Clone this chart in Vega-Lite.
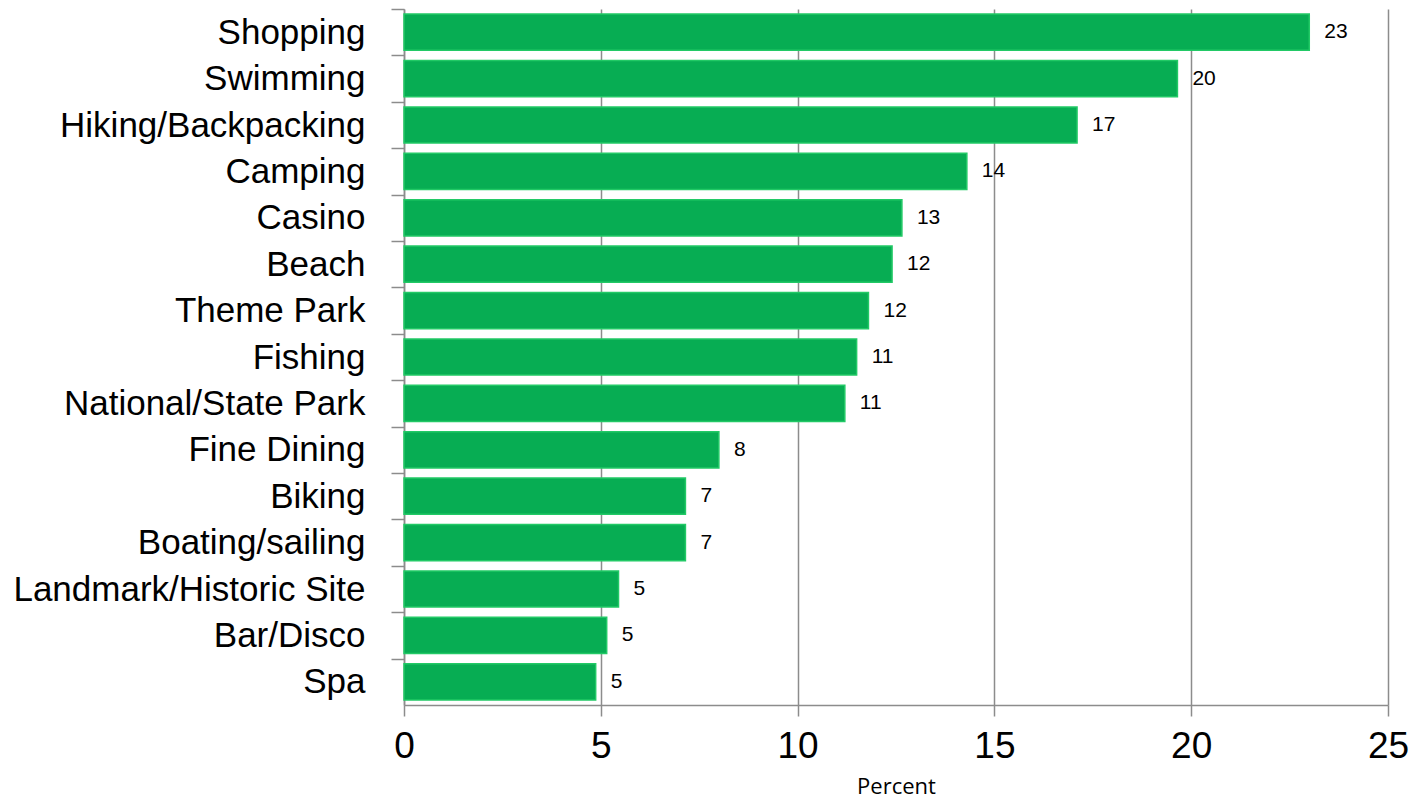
{
  "$schema": "https://vega.github.io/schema/vega-lite/v6.json",
  "width": 984,
  "height": 696,
  "autosize": "none",
  "padding": {"left": 404, "top": 9, "right": 26, "bottom": 97},
  "background": "white",
  "config": {"view": {"stroke": null}},
  "data": {
    "values": [
      {"activity": "Shopping", "percent": 23.0, "label": "23"},
      {"activity": "Swimming", "percent": 19.65, "label": "20"},
      {"activity": "Hiking/Backpacking", "percent": 17.1, "label": "17"},
      {"activity": "Camping", "percent": 14.3, "label": "14"},
      {"activity": "Casino", "percent": 12.65, "label": "13"},
      {"activity": "Beach", "percent": 12.4, "label": "12"},
      {"activity": "Theme Park", "percent": 11.8, "label": "12"},
      {"activity": "Fishing", "percent": 11.5, "label": "11"},
      {"activity": "National/State Park", "percent": 11.2, "label": "11"},
      {"activity": "Fine Dining", "percent": 8.0, "label": "8"},
      {"activity": "Biking", "percent": 7.15, "label": "7"},
      {"activity": "Boating/sailing", "percent": 7.15, "label": "7"},
      {"activity": "Landmark/Historic Site", "percent": 5.45, "label": "5"},
      {"activity": "Bar/Disco", "percent": 5.15, "label": "5"},
      {"activity": "Spa", "percent": 4.87, "label": "5"}
    ]
  },
  "encoding": {
    "y": {
      "field": "activity",
      "type": "nominal",
      "sort": null,
      "scale": {"paddingInner": 0.22, "paddingOuter": 0.11},
      "axis": {
        "title": null,
        "labelFont": "Liberation Sans, Arial, sans-serif",
        "labelFontSize": 35,
        "labelColor": "#000000",
        "labelPadding": 26,
        "labelLimit": 500,
        "tickSize": 13,
        "tickColor": "#8c8c8c",
        "tickWidth": 1.5,
        "tickOffset": -23.2,
        "labelOffset": 23.2,
        "domainColor": "#8c8c8c",
        "domainWidth": 1.5,
        "grid": false
      }
    },
    "x": {
      "field": "percent",
      "type": "quantitative",
      "scale": {"domain": [0, 25], "nice": false},
      "axis": {
        "values": [0, 5, 10, 15, 20, 25],
        "labelFlush": false,
        "title": "Percent",
        "titleFont": "Open Sans, sans-serif",
        "titleFontSize": 22,
        "titleFontWeight": "normal",
        "titleColor": "#000000",
        "titlePadding": 12,
        "labelFont": "Liberation Sans, Arial, sans-serif",
        "labelFontSize": 37,
        "labelColor": "#000000",
        "labelPadding": 12,
        "tickSize": 11,
        "tickColor": "#8c8c8c",
        "tickWidth": 1.5,
        "domainColor": "#8c8c8c",
        "domainWidth": 1.5,
        "grid": true,
        "gridColor": "#8c8c8c",
        "gridWidth": 1.5
      }
    }
  },
  "layer": [
    {
      "mark": {"type": "bar", "fill": "#07ad53", "stroke": "#22c966", "strokeWidth": 1.5}
    },
    {
      "mark": {"type": "text", "align": "left", "baseline": "middle", "dx": 15, "fontSize": 21, "font": "Liberation Sans, Arial, sans-serif", "color": "#000000"},
      "encoding": {"text": {"field": "label", "type": "nominal"}}
    }
  ]
}
